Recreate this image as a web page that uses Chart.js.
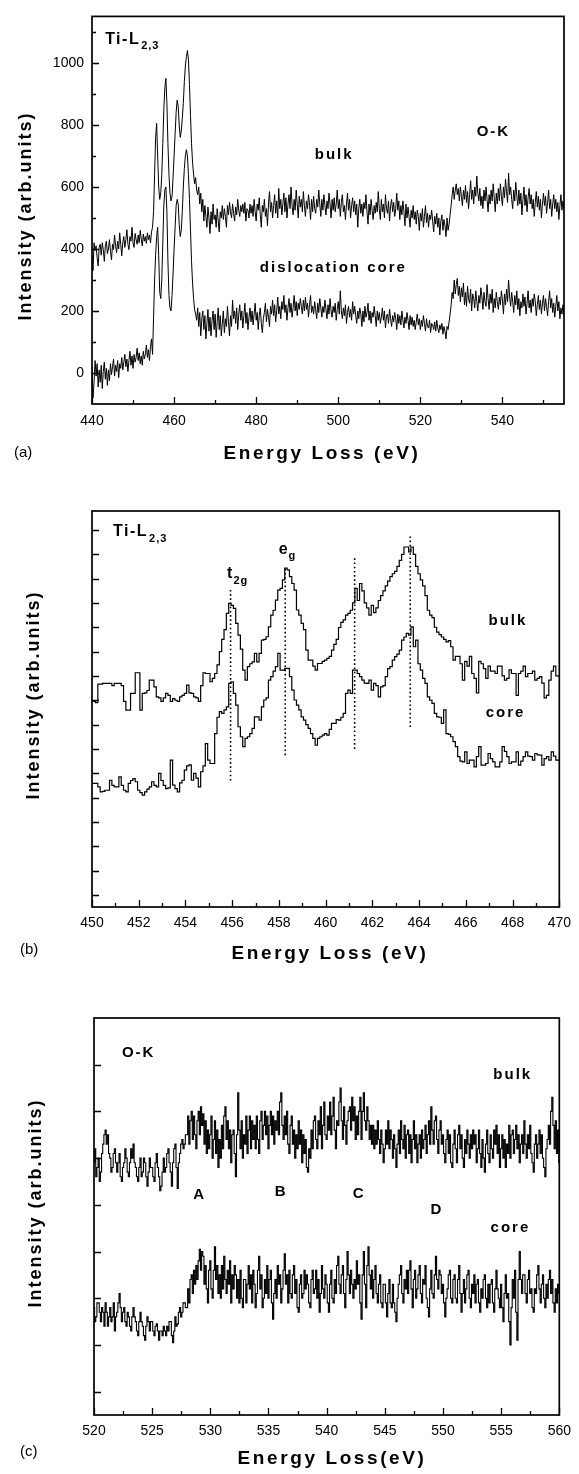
<!DOCTYPE html>
<html>
<head>
<meta charset="utf-8">
<script src="https://cdn.jsdelivr.net/npm/chart.js@4.4.1/dist/chart.umd.min.js"></script>
<style>
  body { margin: 0; background: #fff; }
  #page { position: relative; width: 579px; height: 1474px; }
  canvas { position: absolute; left: 0; }
</style>
</head>
<body>
<div id="page">
  <canvas id="chartA" width="579" height="470" style="top:0"></canvas>
  <canvas id="chartB" width="579" height="510" style="top:470px"></canvas>
  <canvas id="chartC" width="579" height="494" style="top:980px"></canvas>
</div>
<script>
/*********************  data  *********************/
// (a) Ti-L2,3 + O-K, 440-555 eV, one channel every 0.25 eV (one row = 1 eV)
var startA = 440, stepA = 0.25;
var bulkA = [
  380, 330, 420, 395,  410, 372, 345, 405,  415, 380, 420, 398,  360, 410, 425, 385,
  400, 430, 392, 365,  415, 398, 445, 410,  388, 425, 400, 452,  415, 378, 420, 440,
  405, 430, 462, 415,  398, 440, 425, 470,  420, 405, 450, 430,  415, 445, 420, 460,
  432, 410, 448, 425,  440, 418, 452, 430,  445, 420, 455, 470,  520, 640, 760, 805,
  700, 600, 560, 580,  640, 740, 850, 920,  950, 870, 740, 640,  580, 555, 570, 630,
  700, 770, 840, 880,  860, 800, 760, 780,  820, 870, 940, 990,  1020, 1040, 1010, 930,
  830, 740, 680, 640,  610, 630, 590, 575,  600, 545, 580, 520,  560, 490, 540, 505,
  470, 535, 500, 450,  520, 480, 545, 495,  510, 470, 530, 490,  455, 520, 500, 540,
  495, 530, 505, 470,  540, 510, 550, 520,  500, 545, 515, 490,  535, 510, 560, 525,
  505, 540, 520, 545,  515, 550, 490, 530,  525, 500, 545, 515,  540, 505, 560, 520,
  490, 545, 525, 565,  510, 470, 540, 520,  560, 505, 530, 475,  545, 585, 520, 550,
  500, 540, 575, 515,  555, 500, 595, 530,  560, 510, 545, 580,  520, 565, 500, 545,
  575, 530, 600, 540,  510, 560, 525, 590,  545, 500, 570, 535,  560, 520, 585, 540,
  505, 555, 530, 575,  545, 495, 560, 520,  570, 530, 515, 560,  535, 590, 545, 505,
  560, 525, 575, 540,  510, 555, 530, 580,  545, 500, 560, 525,  565, 520, 545, 590,
  530, 560, 505, 550,  575, 520, 540, 495,  545, 580, 525, 560,  500, 540, 565, 520,
  555, 510, 545, 470,  530, 560, 515, 545,  505, 550, 530, 575,  520, 480, 545, 510,
  560, 525, 495, 540,  515, 550, 520, 585,  530, 495, 560, 520,  545, 500, 575, 530,
  515, 555, 490, 540,  560, 520, 550, 505,  530, 580, 525, 555,  495, 540, 510, 555,
  520, 475, 545, 500,  535, 505, 470, 525,  500, 540, 495, 520,  480, 525, 505, 460,
  515, 490, 530, 470,  505, 540, 485, 515,  470, 510, 495, 525,  490, 455, 505, 480,
  515, 470, 500, 445,  490, 510, 460, 495,  475, 440, 500, 460,  480, 510, 540, 575,
  600, 560, 590, 610,  575, 595, 555, 600,  570, 540, 590, 560,  605, 550, 585, 530,
  575, 620, 560, 590,  545, 600, 570, 635,  580, 555, 595, 540,  570, 530, 590, 555,
  600, 560, 520, 575,  545, 590, 555, 610,  565, 520, 580, 545,  595, 555, 610, 570,
  540, 600, 565, 625,  585, 550, 645, 575,  600, 560, 530, 590,  555, 615, 570, 540,
  590, 545, 580, 510,  560, 600, 540, 575,  520, 565, 595, 545,  575, 530, 560, 505,
  550, 585, 535, 570,  525, 560, 500, 545,  580, 540, 570, 515,  550, 590, 530, 560,
  505, 545, 575, 530,  560, 520, 550, 495,  540, 575, 525, 555,
  530
];
var coreA = [
  20, -80, -30, 40,  -10, 30, -45, 10,  -30, 25, -50, 5,  35, -20, 15, -40,
  10, -25, 30, -5,  20, 45, -10, 25,  5, 40, -15, 30,  15, 50, 10, 35,
  60, 20, 45, 5,  40, 70, 25, 55,  15, 60, 35, 50,  80, 40, 65, 30,
  55, 25, 70, 45,  60, 90, 50, 75,  40, 85, 110, 60,  180, 300, 380, 440,
  470, 380, 260, 240,  300, 420, 540, 590,  600, 520, 360, 250,  210, 200, 250, 320,
  400, 470, 540, 560,  545, 480, 440, 460,  520, 600, 660, 700,  720, 700, 640, 560,
  460, 360, 290, 240,  205, 190, 170, 210,  150, 195, 120, 175,  200, 140, 185, 110,
  160, 205, 135, 180,  120, 170, 200, 140,  190, 115, 165, 210,  140, 185, 120, 160,
  200, 130, 175, 150,  215, 165, 120, 185,  150, 235, 175, 200,  160, 210, 140, 190,
  220, 170, 200, 145,  185, 225, 160, 195,  140, 180, 210, 165,  200, 155, 190, 225,
  170, 195, 140, 185,  210, 160, 130, 175,  195, 225, 165, 205,  180, 150, 215, 190,
  235, 185, 220, 165,  200, 245, 190, 215,  175, 230, 205, 250,  195, 220, 170, 210,
  240, 195, 225, 180,  210, 250, 200, 230,  185, 225, 205, 240,  215, 190, 235, 200,
  245, 205, 225, 180,  220, 250, 195, 215,  190, 230, 205, 175,  225, 195, 240, 210,
  180, 215, 195, 235,  205, 175, 220, 190,  240, 200, 180, 215,  195, 225, 170, 205,
  230, 190, 265, 200,  175, 210, 185, 220,  160, 195, 215, 180,  205, 170, 230, 190,
  215, 185, 160, 200,  175, 210, 190, 150,  200, 165, 215, 180,  195, 225, 170, 200,
  160, 195, 180, 215,  185, 150, 200, 170,  195, 160, 180, 210,  170, 200, 145, 185,
  190, 160, 205, 175,  150, 185, 165, 195,  175, 140, 190, 160,  185, 155, 200, 170,
  145, 180, 160, 195,  170, 140, 185, 155,  180, 150, 170, 140,  165, 190, 155, 175,
  140, 170, 150, 185,  160, 135, 175, 150,  145, 170, 130, 160,  155, 140, 165, 135,
  170, 145, 130, 155,  140, 160, 125, 150,  135, 110, 150, 140,  165, 190, 220, 260,
  240, 300, 255, 285,  305, 250, 280, 230,  275, 245, 290, 220,  260, 215, 280, 240,
  225, 270, 200, 255,  240, 210, 265, 230,  200, 250, 225, 275,  245, 205, 260, 230,
  215, 285, 240, 205,  255, 225, 270, 195,  240, 210, 260, 230,  205, 245, 220, 265,
  235, 190, 255, 220,  270, 230, 300, 245,  215, 260, 230, 195,  250, 220, 265, 205,
  240, 185, 230, 210,  255, 215, 245, 190,  225, 265, 210, 235,  195, 240, 215, 255,
  230, 185, 220, 250,  205, 235, 190, 225,  250, 200, 240, 215,  185, 230, 265, 210,
  240, 195, 225, 180,  215, 250, 200, 230,  175, 210, 190, 220,
  185
];
var xTicksA = [440, 460, 480, 500, 520, 540];
var xMinorA = [450, 470, 490, 510, 530, 550];
var yTicksA = [0, 200, 400, 600, 800, 1000];
var yMinorA = [100, 300, 500, 700, 900, 1100];

// (b) Ti-L2,3 fine structure, 450-470 eV, 0.1 eV channels (one row = 1 eV), arb. units
var startB = 450, stepB = 0.1;
var bulkB = [
  8.95, 8.95, 8.9, 9.66, 9.66, 9.69, 9.69, 9.69, 9.69, 9.6,
  9.69, 9.69, 9.69, 9.6, 8.95, 8.59, 8.59, 9.28, 9.28, 10.13,
  10.13, 8.59, 9.28, 9.3, 9.4, 9.83, 9.83, 9.55, 9.14, 9.1,
  8.95, 9.1, 9.28, 9.2, 8.95, 9.07, 9.0, 8.95, 9.14, 9.2,
  9.28, 9.62, 9.3, 9.28, 9.14, 9.1, 8.95, 9.6, 10.13, 10.1,
  10.1, 9.76, 9.9, 10.1, 10.45, 11.0, 11.5, 11.9, 12.57, 12.98,
  12.9, 12.78, 12.16, 11.68, 11.1, 10.24, 9.83, 10.38, 10.5, 10.58,
  10.93, 10.58, 10.93, 11.47, 11.5, 11.61, 12.02, 12.5, 12.7, 13.12,
  13.53, 13.6, 13.95, 14.43, 14.36, 14.08, 13.8, 13.53, 12.71, 12.5,
  12.16, 11.9, 11.06, 10.65, 10.65, 10.4, 10.24, 10.51, 10.51, 10.6,
  10.65, 10.72, 10.8, 11.06, 11.3, 11.5, 11.99, 12.2, 12.3, 12.5,
  12.57, 12.7, 13.0, 13.6, 13.1, 13.8, 13.5, 13.0, 12.8, 12.5,
  12.9, 12.6, 12.8, 13.1, 13.3, 13.5, 13.7, 13.9, 14.08, 14.2,
  14.3, 14.5, 14.75, 15.0, 15.3, 15.3, 15.1, 15.3, 15.0, 14.5,
  14.2, 13.95, 13.7, 13.3, 12.7, 12.5, 12.4, 12.0, 11.8, 11.7,
  11.6, 11.5, 11.4, 11.45, 11.2, 10.65, 10.8, 10.8, 10.5, 9.83,
  10.6, 10.4, 10.8, 10.1, 9.9, 9.3, 10.6, 10.5, 10.3, 9.9,
  10.4, 10.2, 10.2, 10.1, 10.4, 10.4, 10.0, 9.83, 9.9, 10.25,
  10.1, 10.1, 9.2, 10.1, 10.2, 10.4, 9.97, 10.1, 10.1, 10.2,
  9.83, 9.9, 9.97, 9.7, 9.1, 9.2, 9.83, 10.2, 10.4, 10.0,
  10.0
];
var coreB = [
  5.58, 5.58, 5.58, 5.44, 5.23, 5.25, 5.3, 5.3, 5.71, 5.5,
  5.44, 5.44, 5.85, 5.5, 5.3, 5.23, 5.58, 5.7, 5.78, 5.65,
  5.3, 5.2, 5.1, 5.23, 5.35, 5.44, 5.65, 5.5, 5.44, 5.99,
  5.7, 5.5, 5.37, 5.4, 6.54, 5.51, 5.37, 5.23, 5.6, 5.71,
  6.13, 6.3, 6.34, 5.71, 5.99, 5.8, 5.44, 6.06, 6.3, 7.22,
  6.54, 6.4, 6.4, 7.63, 8.3, 8.53, 8.46, 8.6, 8.73, 9.69,
  9.76, 9.28, 8.8, 7.91, 7.5, 7.09, 7.43, 7.5, 7.63, 7.84,
  8.32, 8.32, 8.18, 8.73, 9.01, 9.1, 9.83, 9.97, 10.2, 10.38,
  10.93, 10.24, 10.24, 10.31, 10.31, 9.97, 9.42, 9.01, 8.8, 8.6,
  8.32, 8.18, 8.0, 7.84, 7.63, 7.43, 7.15, 7.43, 7.5, 7.57,
  7.63, 7.57, 7.8, 8.05, 8.05, 8.2, 8.18, 8.3, 8.46, 9.28,
  9.42, 9.28, 10.24, 10.24, 10.1, 9.97, 9.83, 9.7, 9.69, 9.83,
  9.42, 9.69, 9.6, 9.14, 9.55, 9.6, 9.97, 10.3, 10.38, 10.65,
  10.79, 10.9, 11.06, 11.47, 11.6, 11.75, 11.68, 12.02, 11.2, 11.47,
  10.5, 10.24, 9.9, 9.69, 9.14, 9.0, 8.87, 8.46, 8.32, 8.3,
  8.05, 8.6, 7.63, 7.6, 7.5, 7.3, 7.09, 6.68, 6.5, 6.47,
  6.88, 6.4, 6.54, 6.54, 6.26, 6.68, 7.09, 6.33, 6.33, 6.4,
  6.81, 6.6, 6.47, 6.26, 6.26, 6.47, 7.09, 6.9, 6.68, 6.4,
  6.47, 6.47, 6.88, 6.33, 6.5, 6.68, 6.88, 6.7, 6.68, 6.54,
  6.81, 6.75, 6.74, 6.33, 6.6, 6.68, 6.54, 6.88, 6.7, 6.54,
  6.54
];
// dotted guide lines: energy, lower and upper end
var guideE = [455.93, 458.27, 461.24, 463.62];
var guideLo = [5.7, 6.74, 7.0, 7.9];
var guideHi = [13.53, 14.5, 14.9, 15.8];
var xTicksB = [450, 452, 454, 456, 458, 460, 462, 464, 466, 468, 470];
var xMinorB = [451, 453, 455, 457, 459, 461, 463, 465, 467, 469];
var yTicksB = [1, 2, 3, 4, 5, 6, 7, 8, 9, 10, 11, 12, 13, 14, 15, 16];

// (c) O-K edge, 520-560 eV, 0.1 eV channels (one row = 1 eV), arb. units
var startC = 520, stepC = 0.1;
var bulkC = [
  5.9, 6.2, 5.6, 5.8, 6.0, 5.5, 5.7, 6.1, 6.3, 6.5,
  6.6, 6.3, 6.5, 6.1, 6.0, 5.7, 5.8, 6.1, 6.2, 5.9,
  5.7, 5.9, 6.1, 5.6, 5.5, 5.8, 5.9, 6.2, 6.0, 5.7,
  5.6, 5.9, 6.2, 6.0, 6.3, 5.9, 5.8, 5.6, 5.5, 5.8,
  6.0, 5.6, 5.7, 6.0, 5.9, 5.6, 5.4, 5.7, 6.0, 5.8,
  5.8, 5.6, 5.5, 5.9, 6.1, 5.8, 5.6, 5.3, 5.4, 5.7,
  6.0, 5.7, 5.8, 6.1, 6.2, 5.9, 5.7, 5.4, 5.9, 6.2,
  6.3, 5.8, 5.35, 5.9, 6.1, 6.3, 6.4, 6.2, 6.3, 6.5,
  6.5, 6.9, 6.3, 6.8, 7.0, 6.4, 6.9, 6.5, 6.2, 6.8,
  7.0, 6.5, 7.1, 6.7, 6.95, 6.3, 6.8, 6.1, 6.6, 6.2,
  6.5, 6.9, 6.0, 6.4, 6.8, 6.1, 6.6, 5.8, 6.4, 6.0,
  6.7, 6.2, 6.9, 7.1, 6.4, 6.8, 6.2, 6.6, 5.9, 6.5,
  6.6, 6.1, 5.6, 6.5, 7.4, 6.6, 6.2, 6.8, 6.0, 6.5,
  6.3, 6.9, 6.1, 6.6, 6.9, 6.2, 6.8, 6.4, 6.7, 6.2,
  6.9, 6.4, 6.1, 6.8, 7.0, 6.4, 6.7, 7.0, 6.5, 6.9,
  6.2, 6.7, 7.0, 6.5, 6.9, 6.3, 6.8, 6.6, 7.0, 6.5,
  7.2, 7.4, 6.7, 6.4, 6.9, 6.5, 7.0, 6.3, 6.1, 6.7,
  6.9, 6.3, 6.6, 6.0, 6.5, 6.2, 6.8, 6.3, 6.6, 5.9,
  6.5, 6.1, 6.4, 5.8, 5.7, 6.2, 6.0, 6.6, 6.2, 6.8,
  6.9, 6.4, 6.2, 6.8, 6.5, 7.1, 6.2, 6.7, 7.2, 6.5,
  6.4, 6.9, 6.6, 7.2, 6.5, 6.9, 7.3, 6.6, 6.2, 6.8,
  6.7, 7.2, 7.5, 6.8, 6.4, 7.1, 6.7, 6.3, 6.8, 7.0,
  7.1, 6.6, 7.3, 6.8, 7.1, 6.4, 6.9, 6.5, 7.0, 7.3,
  6.4, 7.0, 7.4, 6.8, 6.6, 7.1, 6.8, 6.4, 6.7, 6.3,
  6.7, 6.2, 6.6, 6.3, 6.8, 6.4, 6.1, 6.6, 6.3, 5.9,
  6.2, 6.6, 6.3, 6.8, 6.2, 6.6, 6.4, 6.0, 6.5, 6.2,
  5.8, 6.3, 6.6, 6.1, 6.8, 6.4, 6.2, 6.7, 6.0, 6.5,
  6.6, 6.1, 6.5, 5.9, 6.4, 6.8, 6.2, 6.5, 5.9, 6.3,
  6.5, 6.0, 6.6, 6.2, 6.4, 6.7, 6.1, 6.5, 6.8, 6.3,
  7.1, 6.6, 6.3, 6.8, 6.9, 6.4, 6.1, 6.6, 6.8, 6.3,
  6.5, 6.1, 5.9, 6.4, 6.6, 6.1, 6.5, 5.9, 5.8, 6.3,
  6.6, 6.2, 5.9, 6.5, 6.7, 6.2, 6.5, 6.0, 5.8, 6.4,
  6.1, 6.6, 6.3, 6.0, 6.5, 6.2, 6.6, 6.3, 6.5, 5.9,
  6.2, 6.6, 6.1, 5.8, 6.4, 6.0, 5.7, 6.3, 6.6, 6.1,
  5.9, 6.5, 6.2, 6.0, 6.6, 6.3, 6.7, 6.1, 6.5, 5.8,
  6.2, 6.5, 6.0, 6.4, 5.8, 6.3, 6.1, 6.7, 6.0, 6.5,
  6.6, 6.1, 6.4, 6.7, 6.2, 6.5, 5.9, 6.3, 6.5, 6.1,
  6.8, 6.3, 6.0, 6.5, 6.2, 6.7, 6.1, 5.9, 5.7, 6.3,
  6.5, 6.0, 6.3, 6.6, 6.1, 6.5, 6.0, 5.8, 5.6, 6.2,
  6.4, 6.7, 6.3, 7.0, 7.3, 6.7, 6.2, 6.8, 6.1, 6.6,
  5.9
];
var coreC = [
  2.8, 2.5, 2.6, 2.9, 2.9, 2.7, 2.5, 2.8, 2.7, 2.4,
  2.9, 2.7, 2.4, 2.6, 2.8, 2.5, 2.6, 2.9, 2.3, 2.6,
  2.7, 2.9, 3.1, 2.8, 2.5, 2.7, 2.8, 2.5, 2.4, 2.7,
  2.6, 2.4, 2.3, 2.6, 2.8, 2.6, 2.5, 2.3, 2.2, 2.5,
  2.7, 2.5, 2.4, 2.2, 2.1, 2.4, 2.6, 2.5, 2.3, 2.5,
  2.5, 2.3, 2.2, 2.4, 2.45, 2.3, 2.1, 2.3, 2.3, 2.2,
  2.4, 2.3, 2.2, 2.4, 2.3, 2.5, 2.5, 2.2, 2.05, 2.3,
  2.6, 2.4, 2.45, 2.7, 2.8, 2.6, 2.7, 2.9, 2.9, 2.8,
  2.8, 3.2, 2.9, 3.4, 3.5, 3.1, 3.6, 3.3, 3.7, 3.4,
  3.8, 4.05, 3.6, 4.0, 3.9, 3.3, 3.7, 3.2, 2.9, 3.6,
  3.8, 3.2, 3.0, 3.6, 4.1, 3.4, 3.7, 3.1, 3.5, 3.0,
  3.7, 3.2, 3.9, 3.4, 3.1, 3.6, 3.3, 3.8, 2.9, 3.5,
  3.2, 3.7, 3.5, 3.0, 3.4, 2.9, 3.6, 3.0, 2.8, 3.4,
  3.4, 2.9, 3.3, 3.7, 3.2, 3.5, 2.9, 3.6, 3.3, 2.8,
  3.1, 3.6, 3.9, 3.2, 3.5, 2.8, 3.0, 3.4, 3.1, 3.7,
  3.0, 3.4, 3.6, 2.9, 2.55, 3.1, 3.4, 3.0, 3.7, 3.3,
  3.5, 2.9, 3.2, 3.6, 3.95, 3.3, 3.5, 2.9, 3.6, 3.1,
  3.0, 3.5, 3.7, 3.1, 3.4, 2.8, 2.7, 3.3, 3.5, 3.0,
  3.1, 3.6, 3.2, 3.5, 3.3, 2.9, 2.8, 3.4, 3.6, 3.1,
  3.2, 3.6, 3.0, 3.4, 2.7, 3.1, 3.7, 3.2, 3.0, 3.5,
  3.3, 2.9, 2.7, 3.3, 3.6, 3.0, 2.9, 3.4, 3.1, 3.7,
  3.9, 3.3, 3.1, 3.5, 3.7, 3.1, 2.8, 3.4, 4.0, 3.5,
  3.1, 3.6, 3.3, 3.0, 3.4, 3.2, 3.8, 3.3, 3.5, 2.9,
  2.55, 3.5, 4.0, 3.3, 2.8, 3.7, 4.1, 3.5, 3.2, 3.6,
  3.0, 3.4, 3.7, 3.1, 2.9, 3.3, 3.5, 2.9, 2.8, 3.3,
  3.3, 2.9, 2.6, 3.1, 3.4, 2.9, 2.8, 3.3, 2.9, 2.7,
  2.5, 3.0, 3.3, 3.5, 3.7, 3.1, 2.9, 3.4, 3.2, 3.6,
  3.1, 3.6, 3.8, 3.2, 2.8, 3.4, 3.6, 3.0, 3.2, 3.5,
  3.7, 3.1, 2.9, 3.4, 3.3, 3.7, 3.0, 2.8, 2.6, 3.2,
  3.6, 3.1, 3.0, 3.5, 3.9, 3.4, 3.2, 3.6, 3.5, 3.1,
  3.3, 2.9, 2.6, 3.0, 3.2, 3.5, 3.6, 3.0, 2.9, 3.4,
  3.5, 3.0, 2.9, 3.4, 3.7, 3.1, 2.7, 3.1, 3.4, 2.9,
  3.2, 3.5, 3.6, 3.0, 2.8, 3.3, 3.1, 3.5, 2.9, 3.3,
  3.4, 2.9, 2.7, 3.2, 3.0, 3.4, 3.5, 3.0, 2.8, 3.3,
  2.9, 3.3, 3.4, 2.9, 2.7, 3.2, 3.6, 3.2, 3.0, 2.8,
  3.3, 2.8, 2.5, 3.1, 3.5, 3.0, 3.1, 2.5, 2.0, 2.8,
  3.4, 3.0, 3.6, 2.7, 2.1, 3.4, 4.0, 3.4, 3.1, 3.5,
  3.5, 3.1, 2.9, 3.4, 3.6, 3.1, 3.2, 2.8, 2.7, 3.2,
  3.1, 3.5, 3.7, 3.2, 2.9, 3.3, 3.5, 3.0, 2.8, 3.3,
  3.0, 3.4, 3.6, 3.1, 3.4, 2.9, 2.7, 3.2, 2.9, 3.3,
  3.1
];
var xTicksC = [520, 525, 530, 535, 540, 545, 550, 555, 560];
var xMinorC = [522.5, 527.5, 532.5, 537.5, 542.5, 547.5, 552.5, 557.5];
var yTicksC = [1, 2, 3, 4, 5, 6, 7, 8];

/***********************  helpers  ***********************/
var FONT = '"Liberation Sans", Arial, Helvetica, sans-serif';

function spectrum(start, step, vals) {
  return vals.map(function(v, i) { return { x: +(start + i * step).toFixed(2), y: v }; });
}

function trace(data, width, stepped) {
  return {
    data: data, borderColor: '#000', borderWidth: width, pointRadius: 0,
    tension: 0, stepped: stepped || false, fill: false
  };
}

function plain(v) { return String(v); }

function xAxis(min, max, labels, h, pad) {
  return {
    type: 'linear', min: min, max: max,
    grid: { display: false, drawTicks: false },
    border: { display: false },
    ticks: { color: '#000', font: { family: FONT, size: 14 }, padding: pad, maxRotation: 0, autoSkip: false, callback: plain },
    afterBuildTicks: function(s) { s.ticks = labels.map(function(v) { return { value: v }; }); },
    afterFit: function(s) { s.height = h; }
  };
}

function yAxis(min, max, labels, w, show) {
  return {
    type: 'linear', min: min, max: max,
    grid: { display: false, drawTicks: false },
    border: { display: false },
    ticks: { display: show, color: '#000', font: { family: FONT, size: 14 }, padding: 8, callback: plain },
    afterBuildTicks: function(s) { s.ticks = labels.map(function(v) { return { value: v }; }); },
    afterFit: function(s) { s.width = w; }
  };
}

function marks(major, minor, lenMajor, lenMinor) {
  return major.map(function(v) { return [v, lenMajor]; })
    .concat(minor.map(function(v) { return [v, lenMinor]; }));
}

// frame, inward ticks, labels and axis titles
var decor = {
  id: 'decor',
  afterDraw: function(chart, args, o) {
    var ctx = chart.ctx, a = chart.chartArea, sx = chart.scales.x, sy = chart.scales.y;
    ctx.save();
    ctx.strokeStyle = '#000';
    ctx.fillStyle = '#000';
    ctx.lineWidth = 1.3;
    ctx.beginPath();
    o.xMarks.forEach(function(m) {
      var px = Math.round(sx.getPixelForValue(m[0])) + 0.5;
      ctx.moveTo(px, a.bottom); ctx.lineTo(px, a.bottom - m[1]);
    });
    o.yMarks.forEach(function(m) {
      var py = Math.round(sy.getPixelForValue(m[0])) + 0.5;
      ctx.moveTo(a.left, py); ctx.lineTo(a.left + m[1], py);
    });
    ctx.stroke();
    ctx.lineWidth = 1.7;
    ctx.strokeRect(a.left, a.top, a.right - a.left, a.bottom - a.top);

    ctx.textBaseline = 'middle';
    o.notes.forEach(function(n) {
      ctx.font = 'bold ' + n.size + 'px ' + FONT;
      ctx.letterSpacing = (n.ls || 0) + 'px';
      ctx.textAlign = n.align || 'center';
      var px = sx.getPixelForValue(n.x), py = sy.getPixelForValue(n.y);
      ctx.fillText(n.text, px, py);
      if (n.sub) {
        var w = ctx.measureText(n.text).width;
        ctx.font = 'bold ' + Math.round(n.size * 0.68) + 'px ' + FONT;
        ctx.letterSpacing = '1px';
        ctx.textAlign = 'left';
        ctx.fillText(n.sub, px + w + 1, py + 7);
      }
    });

    o.titles.forEach(function(t) {
      ctx.font = (t.bold ? 'bold ' : '') + t.size + 'px ' + FONT;
      ctx.letterSpacing = (t.ls || 0) + 'px';
      ctx.textAlign = t.align || 'center';
      ctx.save();
      ctx.translate(t.x, t.y);
      if (t.rot) ctx.rotate(-Math.PI / 2);
      ctx.fillText(t.text, 0, 0);
      ctx.restore();
    });
    ctx.restore();
  }
};

function titles(yx, yy, xx, xy, tag, tx, ty, xText) {
  return [
    { text: 'Intensity (arb.units)', x: yx, y: yy, rot: true, size: 18, bold: true, ls: 2 },
    { text: xText, x: xx, y: xy, size: 19, bold: true, ls: 2.6 },
    { text: tag, x: tx, y: ty, size: 15, bold: false, align: 'left' }
  ];
}

/***********************  (a)  ***********************/
new Chart(document.getElementById('chartA'), {
  type: 'line',
  data: { datasets: [
    trace(spectrum(startA, stepA, bulkA), 1),
    trace(spectrum(startA, stepA, coreA), 1)
  ] },
  options: {
    responsive: false, animation: false, events: [],
    layout: { padding: { left: 0, right: 15, top: 9, bottom: 0 }, autoPadding: false },
    scales: {
      x: xAxis(440, 555, xTicksA, 66, 9),
      y: yAxis(-100, 1150, yTicksA, 92, true)
    },
    plugins: {
      legend: { display: false }, tooltip: { enabled: false },
      decor: {
        xMarks: marks(xTicksA, xMinorA, 7, 4),
        yMarks: marks(yTicksA, yMinorA, 7, 4),
        notes: [
          { text: 'Ti-L', sub: '2,3', x: 443.2, y: 1076, size: 16, ls: 1.5, align: 'left' },
          { text: 'bulk', x: 499, y: 702, size: 15, ls: 2 },
          { text: 'O-K', x: 537.8, y: 777, size: 15, ls: 2 },
          { text: 'dislocation core', x: 498.8, y: 338, size: 15, ls: 2 }
        ],
        titles: titles(26, 216, 322, 454, '(a)', 14, 453, 'Energy Loss (eV)')
      }
    }
  },
  plugins: [decor]
});

/***********************  (b)  ***********************/
var guides = guideE.map(function(e, i) {
  return {
    data: [{ x: e, y: guideLo[i] }, { x: e, y: guideHi[i] }],
    borderColor: '#000', borderWidth: 1.6, borderDash: [1.6, 2.6], pointRadius: 0, fill: false
  };
});
new Chart(document.getElementById('chartB'), {
  type: 'line',
  data: { datasets: [
    trace(spectrum(startB, stepB, bulkB), 1.2, 'middle'),
    trace(spectrum(startB, stepB, coreB), 1.2, 'middle')
  ].concat(guides) },
  options: {
    responsive: false, animation: false, events: [],
    layout: { padding: { left: 0, right: 16, top: 41, bottom: 0 }, autoPadding: false },
    scales: {
      x: xAxis(450, 470, xTicksB, 73, 8),
      y: yAxis(0.5, 16.78, yTicksB, 92, false)
    },
    plugins: {
      legend: { display: false }, tooltip: { enabled: false },
      decor: {
        xMarks: marks(xTicksB, xMinorB, 7, 4),
        yMarks: marks(yTicksB, [], 7, 4),
        notes: [
          { text: 'Ti-L', sub: '2,3', x: 450.9, y: 15.93, size: 16, ls: 1.5, align: 'left' },
          { text: 'e', sub: 'g', x: 457.99, y: 15.2, size: 16, align: 'left' },
          { text: 't', sub: '2g', x: 455.78, y: 14.19, size: 16, align: 'left' },
          { text: 'bulk', x: 467.8, y: 12.26, size: 15, ls: 2 },
          { text: 'core', x: 467.7, y: 8.48, size: 15, ls: 2 }
        ],
        titles: titles(34, 225, 330, 484, '(b)', 20, 480, 'Energy Loss (eV)')
      }
    }
  },
  plugins: [decor]
});

/***********************  (c)  ***********************/
new Chart(document.getElementById('chartC'), {
  type: 'line',
  data: { datasets: [
    trace(spectrum(startC, stepC, bulkC), 1.1, 'middle'),
    trace(spectrum(startC, stepC, coreC), 1.1, 'middle')
  ] },
  options: {
    responsive: false, animation: false, events: [],
    layout: { padding: { left: 0, right: 10, top: 38, bottom: 0 }, autoPadding: false },
    scales: {
      x: xAxis(520, 560, xTicksC, 59, 8),
      y: yAxis(0.5, 9.0, yTicksC, 94, false)
    },
    plugins: {
      legend: { display: false }, tooltip: { enabled: false },
      decor: {
        xMarks: marks(xTicksC, xMinorC, 7, 4),
        yMarks: marks(yTicksC, [], 7, 4),
        notes: [
          { text: 'O-K', x: 522.4, y: 8.25, size: 15, ls: 2, align: 'left' },
          { text: 'bulk', x: 556.0, y: 7.78, size: 15, ls: 2 },
          { text: 'A', x: 529.0, y: 5.22, size: 15 },
          { text: 'B', x: 536.0, y: 5.28, size: 15 },
          { text: 'C', x: 542.7, y: 5.23, size: 15 },
          { text: 'D', x: 549.4, y: 4.9, size: 15 },
          { text: 'core', x: 555.8, y: 4.51, size: 15, ls: 2 }
        ],
        titles: titles(36, 223, 332, 479, '(c)', 20, 472, 'Energy Loss(eV)')
      }
    }
  },
  plugins: [decor]
});
</script>
</body>
</html>
